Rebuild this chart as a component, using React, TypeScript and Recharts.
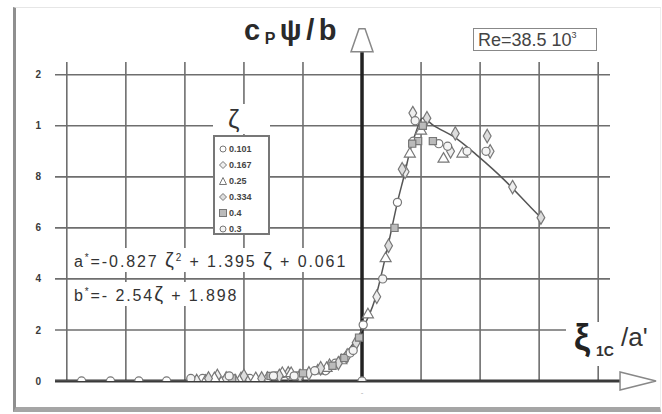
import React from "react";
import {
  ComposedChart,
  Scatter,
  Line,
  XAxis,
  YAxis,
  ZAxis,
  ReferenceLine,
  ReferenceDot,
} from "recharts";

// axis ticks (x in grid units, origin at the thick axis; y in cP·ψ/b)
const X_TICKS = [-5, -4, -3, -2, -1, 0, 1, 2, 3, 4];
const Y_TICKS = [0, 0.2, 0.4, 0.6, 0.8, 1.0, 1.2];
const Y_TICK_LABELS = ["0", "2", "4", "6", "8", "1", "2"];
const X_MIN = -5.2;
const X_MAX = 4.2;
const Y_MAX = 1.25;

// fitted curve
const FIT_X = [-5.2, -3, -2, -1.5, -1, -0.5, -0.2, 0, 0.22, 0.42, 0.61, 0.73, 0.81, 0.92, 1.02, 1.22, 1.6, 1.97, 2.4, 2.86, 3.03];
const FIT_Y = [0, 0, 0.005, 0.01, 0.03, 0.07, 0.13, 0.2, 0.32, 0.51, 0.71, 0.82, 0.9, 0.98, 1.03, 1.0, 0.95, 0.88, 0.79, 0.68, 0.64];

// measured points, one pair of arrays per ζ
const Z101_X = [-4.75, -4.26, -3.78, -3.31, -2.7, -2.35, -1.9, -1.45, -1.1, -0.62, -0.45, 0.02, 0.6, 0.87, 1.3];
const Z101_Y = [0, 0, 0, 0, 0.01, 0.0, 0.01, 0.02, 0.02, 0.04, 0.07, 0.22, 0.7, 0.94, 0.93];
const Z167_X = [-2.8, -2.45, -2.3, -1.95, -1.6, -1.25, -0.9, -0.55, -0.25, 0.25, 0.73, 0.86, 1.5, 2.17, 2.55];
const Z167_Y = [0.0, 0.02, 0.01, 0.0, 0.01, 0.03, 0.03, 0.06, 0.1, 0.33, 0.82, 1.05, 0.9, 0.9, 0.76];
const Z25_X = [-2.65, -2.5, -2.05, -1.8, -1.35, -1.2, -0.75, -0.6, -0.35, 0.1, 0.4, 0.81, 1.0, 1.38, 1.7];
const Z25_Y = [0.0, 0.01, 0.01, 0.01, 0.03, 0.03, 0.04, 0.05, 0.08, 0.26, 0.48, 0.89, 0.98, 0.87, 0.89];
const Z334_X = [-2.6, -2.15, -2.0, -1.7, -1.4, -1.05, -0.7, -0.4, -0.1, 0.45, 0.68, 1.1, 1.58, 2.12, 3.03];
const Z334_Y = [0.01, 0.0, 0.02, 0.01, 0.02, 0.02, 0.05, 0.07, 0.15, 0.53, 0.83, 1.03, 0.97, 0.96, 0.64];
const Z4_X = [-2.2, -1.55, -1.0, -0.5, -0.3, -0.05, 0.55, 0.95, 1.03, 1.2, 0.85];
const Z4_Y = [0.01, 0.02, 0.03, 0.06, 0.09, 0.17, 0.6, 0.94, 1.0, 0.94, 0.93];
const Z3_X = [-2.9, -2.25, -1.5, -1.15, -0.8, -0.2, -0.15, 0.0, 0.35, 0.9, 1.45, 1.78, 2.1];
const Z3_Y = [0.01, 0.02, 0.02, 0.02, 0.04, 0.11, 0.12, 0.0, 0.4, 1.02, 0.92, 0.9, 0.9];

const zip = (xs: number[], ys: number[]) => xs.map((x, i) => ({ x, y: ys[i] }));

const series = [
  { label: "0.101", shape: "circle", fill: "#fff", data: zip(Z101_X, Z101_Y) },
  { label: "0.167", shape: "diamond", fill: "#eee", data: zip(Z167_X, Z167_Y) },
  { label: "0.25", shape: "triangle", fill: "#fff", data: zip(Z25_X, Z25_Y) },
  { label: "0.334", shape: "diamond", fill: "#ddd", data: zip(Z334_X, Z334_Y) },
  { label: "0.4", shape: "square", fill: "#bbb", data: zip(Z4_X, Z4_Y) },
  { label: "0.3", shape: "circle", fill: "#f4f4f4", data: zip(Z3_X, Z3_Y) },
];

const fitData = zip(FIT_X, FIT_Y);

const FONT = "Arial, 'Liberation Sans', sans-serif";
const GRID = "#6e6e6e";
const INK = "#333";

const xArrow = (p: any) => (
  <polygon
    points={`${p.cx},${p.cy - 9} ${p.cx + 36},${p.cy} ${p.cx},${p.cy + 9}`}
    fill="#fff"
    stroke="#888"
    strokeWidth={1.5}
  />
);

const yArrow = (p: any) => (
  <polygon
    points={`${p.cx - 3},${p.cy - 23} ${p.cx + 3},${p.cy - 23} ${p.cx + 11},${p.cy} ${p.cx - 11},${p.cy}`}
    fill="#fff"
    stroke="#888"
    strokeWidth={1.5}
  />
);

function LegendMark({ shape, fill }: { shape: string; fill: string }) {
  const s = "#777";
  return (
    <svg width={8} height={8} style={{ marginRight: 2 }}>
      {shape === "circle" && <circle cx={4} cy={4} r={3} fill={fill} stroke={s} />}
      {shape === "diamond" && <polygon points="4,0.5 7.5,4 4,7.5 0.5,4" fill={fill} stroke={s} />}
      {shape === "triangle" && <polygon points="4,0.5 7.5,7.5 0.5,7.5" fill={fill} stroke={s} />}
      {shape === "square" && <rect x={0.5} y={0.5} width={7} height={7} fill={fill} stroke={s} />}
    </svg>
  );
}

const abs = (left: number, top: number, extra: React.CSSProperties = {}): React.CSSProperties => ({
  position: "absolute",
  left,
  top,
  fontFamily: FONT,
  color: INK,
  whiteSpace: "nowrap",
  ...extra,
});

export default function App() {
  return (
    <div style={{ position: "absolute", left: 0, top: 0, width: 662, height: 414, background: "#fff", overflow: "hidden" }}>
      {/* frame */}
      <div
        style={{
          position: "absolute",
          left: 13,
          top: 7,
          width: 644,
          height: 399,
          borderLeft: "3px solid #8f8f8f",
          borderBottom: "5px solid #a5a5a5",
          borderTop: "1px solid #e6e6e6",
          borderRight: "1px solid #eeeeee",
        }}
      />
      <ComposedChart
        width={662}
        height={414}
        margin={{ top: 62, right: 52, left: 15, bottom: 13 }}
        style={{ position: "absolute", left: 0, top: 0 }}
      >
        <XAxis
          type="number"
          dataKey="x"
          domain={[X_MIN, X_MAX]}
          ticks={X_TICKS}
          allowDataOverflow
          height={20}
          axisLine={false}
          tickLine={false}
          tick={{ fill: "#aaa", fontSize: 8, fontFamily: FONT }}
          tickFormatter={(v: number) => (v === 0 ? "-" : "")}
        />
        <YAxis
          type="number"
          dataKey="y"
          domain={[0, Y_MAX]}
          ticks={Y_TICKS}
          allowDataOverflow
          width={40}
          axisLine={false}
          tickLine={false}
          tickSize={0}
          tickMargin={14}
          tick={{ fill: "#3a3a3a", fontSize: 10, fontWeight: 700, fontFamily: FONT }}
          tickFormatter={(v: number) => Y_TICK_LABELS[Y_TICKS.findIndex((t) => Math.abs(t - v) < 1e-6)] ?? ""}
        />
        <ZAxis range={[52, 52]} />
        {/* grid drawn only at the ticks */}
        {X_TICKS.filter((t) => t !== 0).map((t) => (
          <ReferenceLine
            key={`vx${t}`}
            segment={[{ x: t, y: 0 }, { x: t, y: Y_MAX }]}
            stroke={GRID}
            strokeWidth={1.6}
          />
        ))}
        {Y_TICKS.filter((t) => t !== 0).map((t) => (
          <ReferenceLine
            key={`hy${t}`}
            segment={[{ x: X_MIN, y: t }, { x: X_MAX, y: t }]}
            stroke={GRID}
            strokeWidth={1.6}
          />
        ))}
        <ReferenceLine
          segment={[{ x: X_MIN, y: 0 }, { x: 4.37, y: 0 }]}
          stroke="#3a3a3a"
          strokeWidth={3}
          ifOverflow="visible"
        />
        <ReferenceLine
          segment={[{ x: 0, y: 0 }, { x: 0, y: 1.29 }]}
          stroke="#222"
          strokeWidth={3.5}
          ifOverflow="visible"
        />
        <ReferenceDot x={4.37} y={0} ifOverflow="visible" shape={xArrow} />
        <ReferenceDot x={0} y={1.29} ifOverflow="visible" shape={yArrow} />
        <Line
          data={fitData}
          dataKey="y"
          type="monotone"
          stroke="#555"
          strokeWidth={1.5}
          dot={false}
          isAnimationActive={false}
        />
        {series.map((s) => (
          <Scatter
            key={s.label}
            name={s.label}
            data={s.data}
            shape={s.shape as any}
            fill={s.fill}
            stroke="#777"
            strokeWidth={1.2}
            isAnimationActive={false}
          />
        ))}
      </ComposedChart>

      {/* y title */}
      <div style={abs(244, 14, { fontSize: 29, fontWeight: 600, lineHeight: "32px", letterSpacing: 4.5, color: "#2a2a2a" })}>
        c<span style={{ fontSize: 16, position: "relative", top: 4 }}>P</span>ψ/b
      </div>

      {/* Re box */}
      <div
        style={abs(473, 28, {
          width: 124,
          height: 23,
          border: "1px solid #888",
          fontSize: 18,
          lineHeight: "22px",
          color: "#444",
          paddingLeft: 4,
          boxSizing: "border-box",
        })}
      >
        Re=38.5 10<span style={{ fontSize: 9, position: "relative", top: -8 }}>3</span>
      </div>

      {/* x title */}
      <div style={{ position: "absolute", left: 566, top: 322, width: 90, height: 44, background: "#fff" }} />
      <div style={abs(574, 318, { fontSize: 36, lineHeight: "40px", fontWeight: 600, color: "#222" })}>ξ</div>
      <div style={abs(596, 343, { fontSize: 14, lineHeight: "16px", fontWeight: 700, color: "#333" })}>1C</div>
      <div style={abs(621, 323, { fontSize: 26, lineHeight: "28px", color: "#333" })}>/a'</div>

      {/* legend */}
      <div style={{ position: "absolute", left: 213, top: 104, width: 57, height: 30, background: "#fff" }} />
      <div style={abs(228, 104, { fontSize: 26, lineHeight: "30px", color: "#333" })}>ζ</div>
      <div
        style={abs(213, 135, {
          width: 57,
          height: 100,
          background: "#fff",
          border: "2px solid #777",
          boxSizing: "border-box",
          padding: "4px 0 0 4px",
        })}
      >
        {series.map((s) => (
          <div key={s.label} style={{ display: "flex", alignItems: "center", height: 16, fontSize: 9, fontWeight: 700, color: "#444" }}>
            <LegendMark shape={s.shape} fill={s.fill} />
            {s.label}
          </div>
        ))}
      </div>

      {/* equations */}
      <div style={abs(74, 248, { fontSize: 16, lineHeight: "20px", letterSpacing: 1.9, background: "#fff", color: "#333" })}>
        a<sup style={{ fontSize: 10 }}>*</sup>=-0.827 <span style={{ fontSize: 20 }}>ζ</span>
        <sup style={{ fontSize: 10 }}>2</sup> + 1.395 <span style={{ fontSize: 20 }}>ζ</span> + 0.061
      </div>
      <div style={abs(74, 282, { fontSize: 16, lineHeight: "20px", letterSpacing: 1.9, background: "#fff", color: "#333" })}>
        b<sup style={{ fontSize: 10 }}>*</sup>=- 2.54<span style={{ fontSize: 20 }}>ζ</span> + 1.898
      </div>
    </div>
  );
}
